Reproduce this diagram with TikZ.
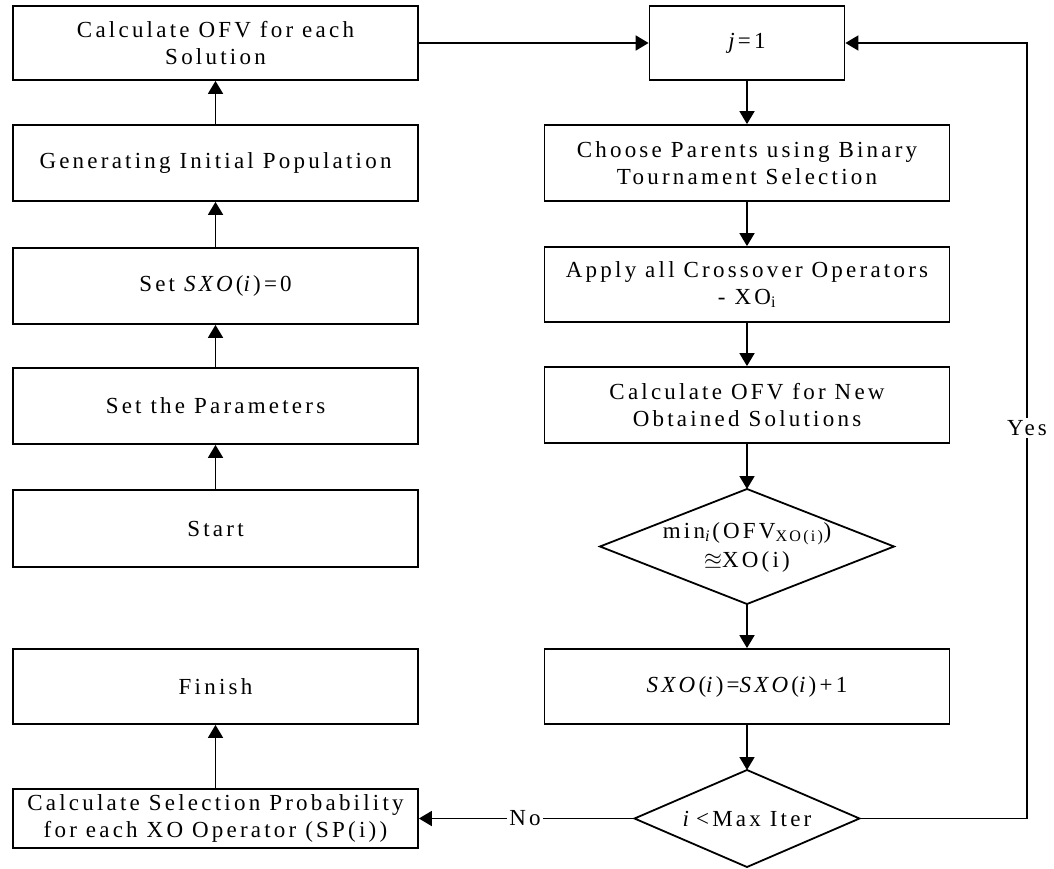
\documentclass[tikz,border=0pt]{standalone}
\usepackage{fontspec}
\usepackage{amssymb}
\setmainfont{Liberation Serif}[LetterSpace=14]
\usetikzlibrary{arrows.meta}

\begin{document}
\begin{tikzpicture}[x=1pt,y=-1pt,
  txt/.style={inner sep=0pt, align=center, font=\fontsize{23}{27}\selectfont},
  box/.style={txt, draw, line width=1.8pt, minimum width=405pt, minimum height=76pt},
  flow/.style={line width=1.8pt, -{Triangle[length=13pt,width=15pt]}},
  plain/.style={line width=1.8pt},
  lbl/.style={txt, fill=white, inner sep=2pt}]

\useasboundingbox (0,0) rectangle (1054,869);

% left column
\node[box, minimum height=74pt] (calc)   at (215.5,43)    {Calculate OFV for each\\Solution};
\node[box] (init)   at (215.5,163)   {Generating Initial Population};
\node[box] (setsxo) at (215.5,286)   {Set \textit{SXO}(\textit{i})=0};
\node[box] (param)  at (215.5,406)   {Set the Parameters};
\node[box, minimum height=77pt] (start)  at (215.5,528.5) {Start};
\node[box, minimum height=75pt] (finish) at (215.5,686.5) {Finish};
\node[box, minimum height=59pt] (sp)     at (215.5,818.5) {Calculate Selection Probability\\for each XO Operator (SP(i))};

% right column
\node[box, minimum width=195pt, minimum height=74pt] (jone) at (747,43) {\textit{j}=1};
\node[box] (choose) at (747,163)   {Choose Parents using Binary\\Tournament Selection};
\node[box, minimum height=75pt] (apply)  at (747,284.5) {Apply all Crossover Operators\\- XO\textsubscript{i}};
\node[box] (newofv) at (747,405)   {Calculate OFV for New\\Obtained Solutions};
\node[box, minimum height=75pt] (incr)   at (747,686.5) {\textit{SXO}(\textit{i})=\textit{SXO}(\textit{i})+1};

% first decision
\coordinate (dat) at (747,489);
\coordinate (dab) at (747,604);
\coordinate (dal) at (600,546.5);
\coordinate (dar) at (894,546.5);
\draw[plain] (dat) -- (dar) -- (dab) -- (dal) -- cycle;
\node[txt, font=\fontsize{23}{29}\selectfont] (da) at (747,547)
  {min\textsubscript{\textit{i}}(OFV\textsubscript{XO(i)})\\$\approxeq$XO(i)};

% second decision
\coordinate (dbt) at (747,770);
\coordinate (dbb) at (747,867);
\coordinate (dbl) at (634.5,818.5);
\coordinate (dbr) at (859.5,818.5);
\draw[plain] (dbt) -- (dbr) -- (dbb) -- (dbl) -- cycle;
\node[txt] (db) at (747,819) {\textit{i}\,<Max Iter};

% connectors, left column
\draw[flow] (start.north)  -- (param.south);
\draw[flow] (param.north)  -- (setsxo.south);
\draw[flow] (setsxo.north) -- (init.south);
\draw[flow] (init.north)   -- (calc.south);
\draw[flow] (sp.north)     -- (finish.south);
\draw[flow] (calc.east)    -- (jone.west);

% connectors, right column
\draw[flow] (jone.south)   -- (choose.north);
\draw[flow] (choose.south) -- (apply.north);
\draw[flow] (apply.south)  -- (newofv.north);
\draw[flow] (newofv.south) -- (dat);
\draw[flow] (dab)          -- (incr.north);
\draw[flow] (incr.south)   -- (dbt);

% branches
\draw[flow] (dbl) -- (sp.east);
\node[lbl] (no) at (525,818.5) {No};
\coordinate (loop) at (1027,818.5);
\draw[flow] (dbr) -- (loop) |- (jone.east);
\node[lbl] (yes) at (1027,428) {Yes};

\end{tikzpicture}
\end{document}
